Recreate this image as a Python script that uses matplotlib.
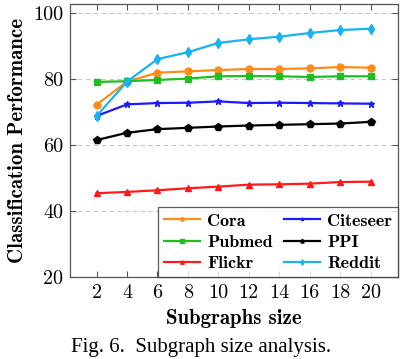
import matplotlib
matplotlib.use('Agg')
import matplotlib.pyplot as plt

# subgraph sizes on the x axis
sizes = [2, 4, 6, 8, 10, 12, 14, 16, 18, 20]

# accuracy values
cora = [72.2, 79.2, 81.9, 82.3, 82.7, 83.0, 83.0, 83.2, 83.6, 83.4]
citeseer = [68.8, 72.3, 72.7, 72.8, 73.2, 72.7, 72.8, 72.7, 72.6, 72.5]
pubmed = [79.1, 79.3, 79.7, 80.1, 80.8, 80.9, 80.8, 80.6, 80.8, 80.8]
ppi = [61.5, 63.7, 64.8, 65.2, 65.6, 65.9, 66.1, 66.3, 66.5, 67.0]
flickr = [45.4, 45.8, 46.3, 46.9, 47.4, 48.0, 48.1, 48.3, 48.8, 48.9]
reddit = [68.8, 79.2, 86.0, 88.1, 90.9, 92.0, 92.8, 93.9, 94.8, 95.2]

y_ticks = [20, 40, 60, 80, 100]

fig = plt.figure(figsize=(4.02, 3.59), dpi=100)
ax = fig.add_axes([0.174, 0.228, 0.816, 0.761])

# order matters for the two-column legend (filled column-wise)
series = [
    ('Cora', cora, '#FF8C1A', 'o', 5),
    ('Pubmed', pubmed, '#1FBF1F', 's', 5),
    ('Flickr', flickr, '#FF1A1A', '^', 5),
    ('Citeseer', citeseer, '#1A1AFF', '*', 5),
    ('PPI', ppi, '#000000', 'p', 5.5),
    ('Reddit', reddit, '#1AB2F0', 'd', 5.5),
]
for name, vals, col, mk, ms in series:
    ax.plot(sizes, vals, color=col, marker=mk, markersize=ms, linewidth=1.6,
            label=name)

ax.set_xlim(0.25, 21.8)
ax.set_ylim(20, 102.7)
ax.set_xticks(sizes)
ax.set_yticks(y_ticks)
ax.yaxis.grid(True, linestyle=(0, (4, 3)), color='#c8c8c8', linewidth=0.8)
ax.set_axisbelow(True)
ax.tick_params(direction='in', top=True, right=True, length=4, color='#555555',
               labelsize=14.5, pad=5)
for lab in ax.get_xticklabels() + ax.get_yticklabels():
    lab.set_fontfamily('cmr10')
for sp in ax.spines.values():
    sp.set_color('#555555')
    sp.set_linewidth(0.9)

ax.set_xlabel('Subgraphs size', fontfamily='cmb10', fontsize=15, labelpad=5)
ax.set_ylabel('Classification Performance', fontfamily='cmb10', fontsize=15,
              labelpad=4)

leg = ax.legend(ncol=2, loc='lower right', bbox_to_anchor=(1.0, 0.0),
                prop={'family': 'cmb10', 'size': 13}, frameon=True,
                fancybox=False, edgecolor='#333333', handlelength=2.0,
                handletextpad=0.4, columnspacing=0.6, labelspacing=0.32,
                borderpad=0.32, borderaxespad=0, markerscale=0.5)
leg.get_frame().set_linewidth(0.9)

fig.text(0.5, 0.02, 'Fig. 6.  Subgraph size analysis.', ha='center',
         fontfamily='Liberation Serif', fontsize=15)

fig.savefig('out.png', dpi=100)
